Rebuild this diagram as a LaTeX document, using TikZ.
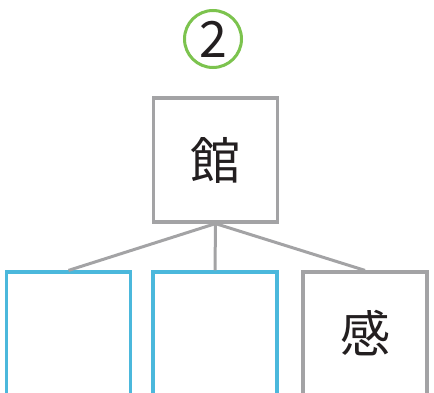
\documentclass[tikz,border=0pt]{standalone}
\usepackage{fontspec}
\usepackage{tikz}
\newfontfamily\cjk{Noto Sans CJK JP}
\definecolor{boxgray}{HTML}{A3A3A5}
\definecolor{boxblue}{HTML}{4BB8DC}
\definecolor{ringgreen}{HTML}{7CC34E}
\definecolor{inkblack}{HTML}{231F20}

\begin{document}
\begin{tikzpicture}[x=1pt,y=-1pt,
  kanji/.style={draw=boxgray,line width=3.2pt,minimum width=124pt,minimum height=124pt,
    inner sep=0pt,font=\cjk\fontsize{50}{50}\selectfont,text=inkblack},
  blank/.style={kanji,draw=boxblue,minimum height=138pt},
  low/.style={kanji,minimum height=138pt},
  link/.style={draw=boxgray,line width=3pt}]
\clip (0,0) rectangle (434,393);
\node[circle,draw=ringgreen,line width=3pt,minimum size=57pt,inner sep=0pt,
  font=\cjk\fontsize{50}{50}\selectfont,text=inkblack] (num) at (213,39) {2};
\node[kanji] (top) at (215.5,160) {館};
\node[blank] (left) at (68.5,341) {};
\node[blank] (mid) at (215,341) {};
\node[low] (right) at (365,341) {};
\node[font=\cjk\fontsize{50}{50}\selectfont,text=inkblack] (feel) at (365,333) {感};
\draw[link] (top.south) -- (left.north);
\draw[link] (top.south) -- (mid.north);
\draw[link] (top.south) -- (right.north);
\end{tikzpicture}
\end{document}
